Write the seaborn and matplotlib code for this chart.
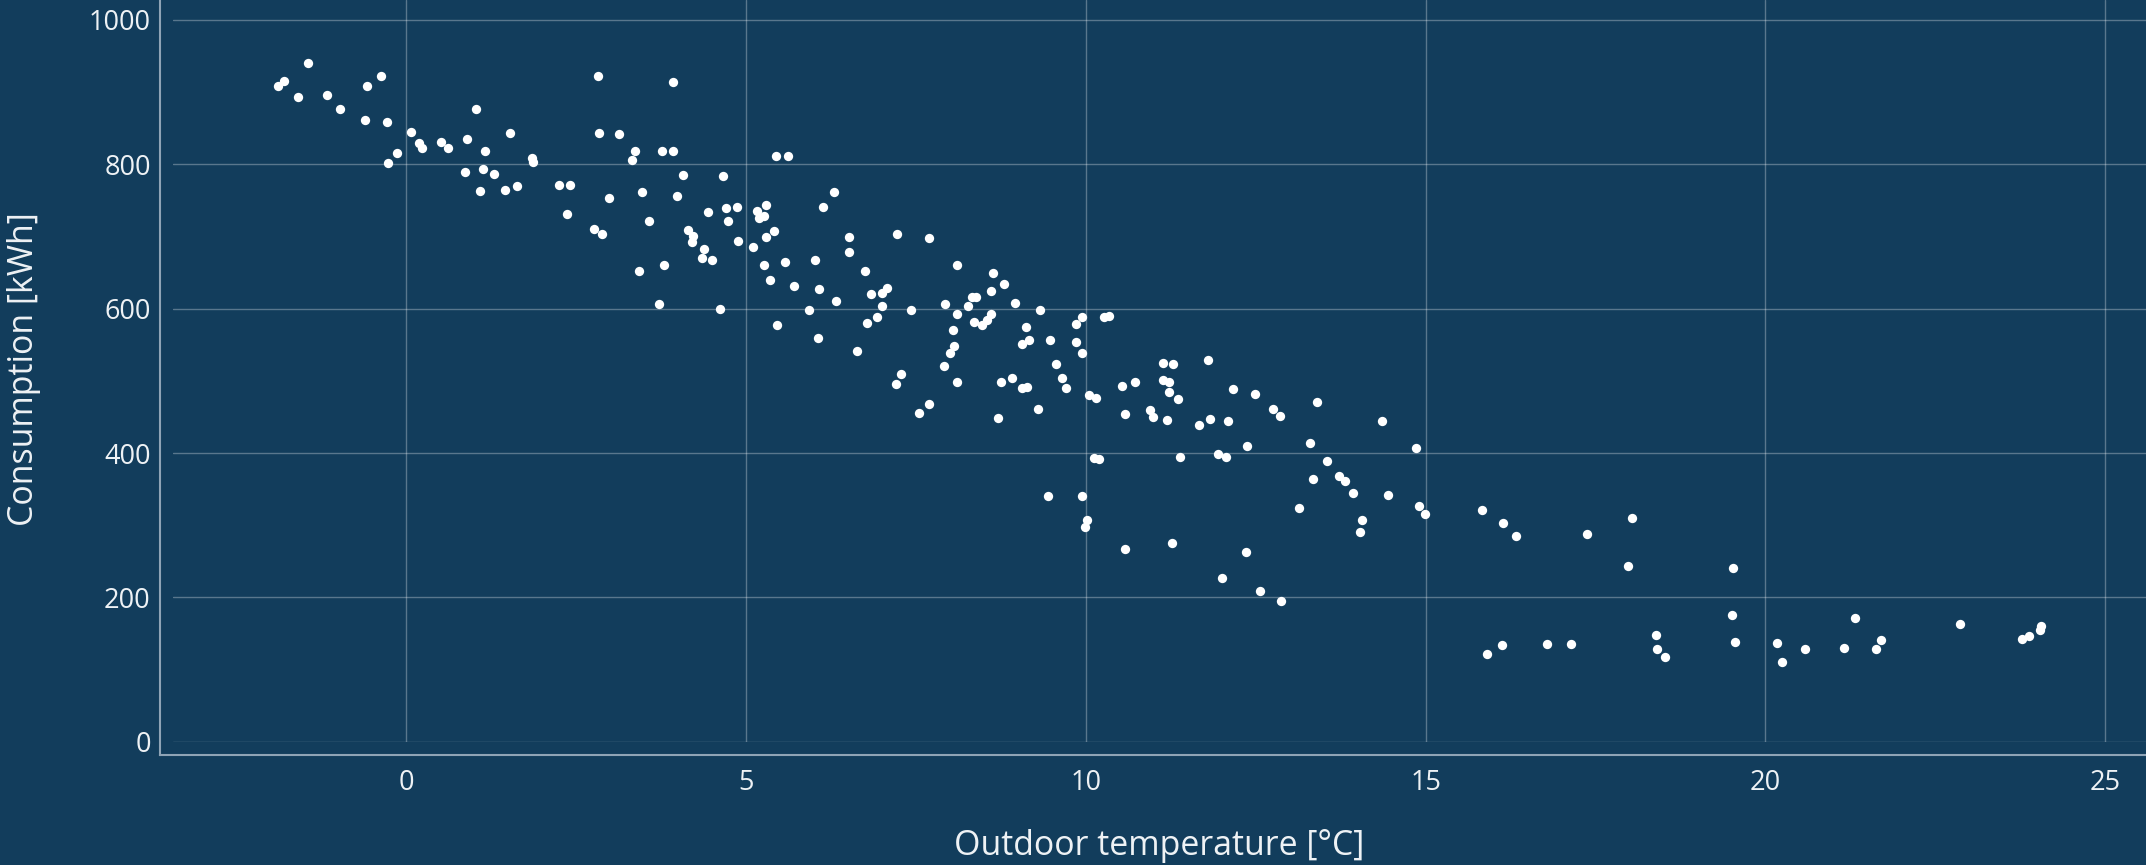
import numpy as np
import pandas as pd
import matplotlib.pyplot as plt
import seaborn as sns

# outdoor temperature [°C] and consumption [kWh]
temperature = [
    -1.88, -1.80, -1.44, -1.59, -1.17, -0.97, -0.57, -0.37, -0.61, -0.28,
    -0.26, -0.13, 0.07, 0.19, 0.23, 0.51, 0.62, 0.90, 1.03, 1.16,
    1.53, 0.87, 1.13, 1.30, 1.09, 1.45, 1.63, 1.85, 1.87, 2.25,
    2.41, 2.36, 2.77, 2.88, 2.82, 3.92, 2.84, 3.13, 2.99, 3.37,
    3.32, 3.77, 3.93, 3.47, 3.58, 3.42, 3.80, 3.72, 3.98, 4.07,
    4.66, 4.15, 4.22, 4.20, 4.44, 4.38, 4.36, 4.50, 4.62, 4.71,
    4.87, 4.74, 4.88, 5.10, 5.16, 5.30, 5.19, 5.26, 5.29, 5.42,
    5.27, 5.36, 5.44, 5.45,
    5.62, 5.58, 5.71, 6.13, 6.30, 6.02, 6.08, 5.93, 6.06, 6.33,
    6.51, 6.52, 6.75, 6.84, 7.00, 7.07, 7.00, 6.93, 6.78, 6.64,
    7.23, 7.43, 7.28, 7.21, 7.70, 7.54, 7.70, 8.11, 7.93, 8.10,
    8.04, 8.06, 8.00, 7.92, 8.11, 8.27, 8.32, 8.39, 8.36, 8.47,
    8.55, 8.61, 8.61, 8.63, 8.79, 8.96, 9.12, 9.17, 9.06, 9.32,
    9.47, 9.56, 9.65, 9.71, 8.76, 8.92, 9.06, 9.13, 8.71, 9.30,
    9.85, 9.94, 9.86, 9.95, 10.27, 10.34, 10.05, 10.15, 10.12, 10.19,
    10.54, 10.73, 10.58, 10.94, 10.99, 11.14, 11.29, 11.13, 11.23, 11.22,
    11.35, 11.20, 11.80, 11.66, 11.83, 11.39, 11.95,
    12.09, 12.06, 11.27, 12.36, 12.17, 12.49, 12.37, 12.75, 12.86, 13.40,
    13.30, 13.55, 13.34, 13.72, 13.81, 13.93, 13.14, 14.07, 14.04, 14.36,
    14.44, 14.86, 14.91, 14.99, 15.83, 16.14, 16.33, 17.38, 18.03, 17.98,
    9.45, 9.95, 10.02, 9.99, 10.58, 12.00, 12.56, 12.88, 15.91, 16.13,
    19.52, 19.51, 19.55, 17.14, 18.39, 18.41, 18.53, 20.17, 20.24, 20.58,
    21.16, 21.32, 21.62, 21.70, 22.86, 23.77, 23.88, 24.06, 24.04, 16.78,
]
consumption = [
    908, 916, 940, 893, 896, 876, 909, 922, 861, 858,
    802, 816, 845, 829, 823, 831, 823, 835, 877, 819,
    843, 790, 793, 787, 763, 765, 770, 809, 803, 772,
    772, 731, 711, 704, 923, 914, 843, 842, 753, 818,
    806, 819, 818, 761, 722, 652, 661, 607, 756, 785,
    784, 709, 701, 692, 734, 683, 670, 668, 599, 739,
    741, 722, 694, 686, 736, 744, 726, 728, 699, 708,
    661, 640, 811, 577,
    811, 665, 631, 741, 762, 667, 627, 598, 560, 611,
    700, 678, 652, 621, 622, 629, 604, 589, 580, 542,
    704, 598, 510, 495, 698, 456, 468, 661, 607, 593,
    570, 548, 538, 520, 498, 604, 616, 616, 582, 577,
    585, 593, 625, 649, 634, 608, 575, 557, 551, 598,
    556, 524, 504, 490, 499, 504, 490, 491, 449, 461,
    554, 539, 579, 588, 588, 590, 481, 476, 393, 392,
    493, 499, 454, 460, 450, 525, 523, 501, 499, 485,
    475, 446, 529, 439, 447, 395, 398,
    445, 394, 275, 263, 489, 482, 410, 461, 451, 471,
    414, 389, 364, 368, 361, 344, 324, 307, 290, 444,
    342, 407, 327, 316, 321, 303, 285, 288, 310, 244,
    341, 341, 307, 298, 267, 227, 209, 195, 122, 134,
    240, 176, 138, 135, 148, 129, 117, 137, 111, 128,
    130, 171, 129, 141, 163, 142, 147, 161, 155, 136,
]

x_ticks = [0, 5, 10, 15, 20, 25]
y_ticks = [0, 200, 400, 600, 800, 1000]

bg = "#123d5c"
text_color = "#eef2f5"
spine_color = "#8fa4b6"

sns.set_theme(style="darkgrid", rc={
    "axes.facecolor": bg,
    "figure.facecolor": bg,
    "grid.color": "#ffffff",
    "grid.alpha": 0.3,
    "grid.linewidth": 1.0,
    "axes.edgecolor": spine_color,
    "axes.labelcolor": text_color,
    "xtick.color": text_color,
    "ytick.color": text_color,
})
plt.rcParams['font.family'] = ['Open Sans', 'DejaVu Sans']

df = pd.DataFrame({"temp": temperature, "kwh": consumption})

fig = plt.figure(figsize=(21.46, 8.65), dpi=100)
ax = fig.add_axes([173 / 2146, 123.3 / 865, 1973 / 2146, 741.7 / 865])

sns.scatterplot(data=df, x="temp", y="kwh", color="white", s=45,
                linewidth=0, ax=ax, zorder=3)

ax.set_xlim(-3.43, 25.6)
ax.set_ylim(0, 1027.7)
ax.set_xticks(x_ticks)
ax.set_yticks(y_ticks)
ax.tick_params(axis="both", length=0, labelsize=19.5)
ax.tick_params(axis="y", pad=6.7)
ax.tick_params(axis="x", pad=10)

for side in ["top", "right"]:
    ax.spines[side].set_visible(False)
for side in ["left", "bottom"]:
    ax.spines[side].set_visible(True)
    ax.spines[side].set_position(("outward", 9.4))
    ax.spines[side].set_linewidth(1.5)
    ax.spines[side].set_color(spine_color)
ax.spines["left"].set_bounds(-18, 1027.7)
ax.spines["bottom"].set_bounds(-3.62, 25.6)

ax.set_xlabel("Outdoor temperature [°C]", fontsize=24.4, color=text_color)
ax.set_ylabel("Consumption [kWh]", fontsize=24.4, color=text_color)
ax.xaxis.set_label_coords(0.5, -0.1406)
ax.xaxis.label.set_va("center")
ax.yaxis.set_label_coords(-0.0753, 0.502)
ax.yaxis.label.set_va("center")

fig.savefig("out.png", dpi=100, facecolor=bg)
